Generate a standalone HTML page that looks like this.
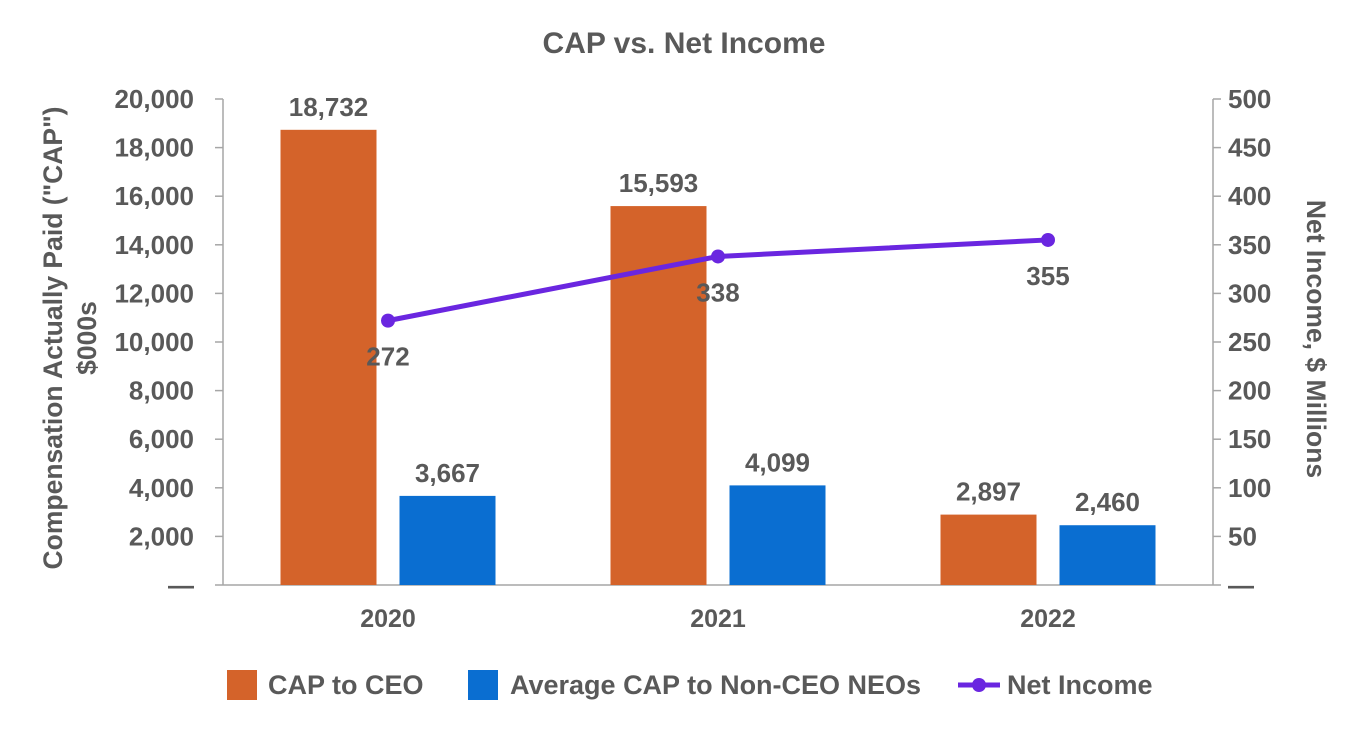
<!DOCTYPE html>
<html><head><meta charset="utf-8"><style>
body{margin:0;background:#fff;}
svg text{font-family:"Liberation Sans",Arial,sans-serif;font-weight:bold;fill:#595959;}
</style></head><body>
<svg id="chart" width="1368" height="740" xmlns="http://www.w3.org/2000/svg">
<text x="684" y="53" font-size="30" text-anchor="middle">CAP vs. Net Income</text>
<g id="axes"></g><g id="bars"></g><g id="line"></g>
<text transform="translate(62,338) rotate(-90)" font-size="26.5" text-anchor="middle">Compensation Actually Paid ("CAP")</text>
<text transform="translate(96,338) rotate(-90)" font-size="26.5" text-anchor="middle">$000s</text>
<text transform="translate(1307,339) rotate(90)" font-size="26.5" text-anchor="middle">Net Income, $ Millions</text>
<g>
<rect x="227" y="670" width="30" height="30" fill="#D4632A"/>
<text x="268" y="694" font-size="27">CAP to CEO</text>
<rect x="468" y="670" width="30" height="30" fill="#0A6ED1"/>
<text x="510" y="694" font-size="27">Average CAP to Non-CEO NEOs</text>
<line x1="958" y1="685" x2="1000" y2="685" stroke="#6A26E0" stroke-width="5"/>
<circle cx="979" cy="685" r="7" fill="#6A26E0"/>
<text x="1007" y="694" font-size="27">Net Income</text>
</g>
</svg>
<script>
const categories=["2020","2021","2022"];
const capCeo=[18732,15593,2897];
const capAvg=[3667,4099,2460];
const netIncome=[272,338,355];
const leftTicks=[0,2000,4000,6000,8000,10000,12000,14000,16000,18000,20000];
const rightTicks=[0,50,100,150,200,250,300,350,400,450,500];
const NS="http://www.w3.org/2000/svg";
const L=223,R=1213,T=99,B=585;
const yL=v=>B-(v/20000)*(B-T);
const yR=v=>B-(v/500)*(B-T);
const xC=i=>L+(R-L)/3*(i+0.5);
function mk(tag,attrs,parent,text){const e=document.createElementNS(NS,tag);for(const k in attrs)e.setAttribute(k,attrs[k]);if(text!==undefined)e.textContent=text;parent.appendChild(e);return e;}
const ax=document.getElementById('axes'),bg=document.getElementById('bars'),lg=document.getElementById('line');
let e;
e=mk('line',{x1:L,y1:T,x2:L,y2:B,stroke:'#A6A6A6','stroke-width':1.5},ax);


e=mk('line',{x1:R,y1:T,x2:R,y2:B,stroke:'#A6A6A6','stroke-width':1.5},ax);


e=mk('line',{x1:L,y1:B,x2:R,y2:B,stroke:'#A6A6A6','stroke-width':1.5},ax);


leftTicks.forEach(v=>{const y=yL(v);
 mk('line',{x1:L-8,y1:y,x2:L,y2:y,stroke:'#A6A6A6','stroke-width':1.5},ax);
 e=mk('text',{x:194,y:y+9,'font-size':26,'text-anchor':'end'},ax,v===0?'—':v.toLocaleString('en-US'));
 
 });
rightTicks.forEach(v=>{const y=yR(v);
 mk('line',{x1:R,y1:y,x2:R+8,y2:y,stroke:'#A6A6A6','stroke-width':1.5},ax);
 e=mk('text',{x:1228,y:y+9,'font-size':26,'text-anchor':'start'},ax,v===0?'—':String(v));
 
 });
const bw=96,gap=23;
categories.forEach((c,i)=>{const cx=xC(i);
 e=mk('text',{x:cx,y:627,'font-size':25,'text-anchor':'middle'},ax,c);
 
 
 const x1=cx-gap/2-bw,x2=cx+gap/2;
 e=mk('rect',{x:x1,y:yL(capCeo[i]),width:bw,height:B-yL(capCeo[i]),fill:'#D4632A'},bg);
 
 
 e=mk('text',{x:x1+bw/2,y:yL(capCeo[i])-14,'font-size':26,'text-anchor':'middle'},bg,capCeo[i].toLocaleString('en-US'));
 
 
 e=mk('rect',{x:x2,y:yL(capAvg[i]),width:bw,height:B-yL(capAvg[i]),fill:'#0A6ED1'},bg);
 
 
 e=mk('text',{x:x2+bw/2,y:yL(capAvg[i])-14,'font-size':26,'text-anchor':'middle'},bg,capAvg[i].toLocaleString('en-US'));
 
 
});
e=mk('polyline',{points:netIncome.map((v,i)=>xC(i)+','+yR(v)).join(' '),fill:'none',stroke:'#6A26E0','stroke-width':5},lg);


netIncome.forEach((v,i)=>{
 e=mk('circle',{cx:xC(i),cy:yR(v),r:7,fill:'#6A26E0'},lg);
 
 
 e=mk('text',{x:xC(i),y:yR(v)+45,'font-size':26,'text-anchor':'middle'},lg,String(v));
 
 
});
</script>
</body></html>
